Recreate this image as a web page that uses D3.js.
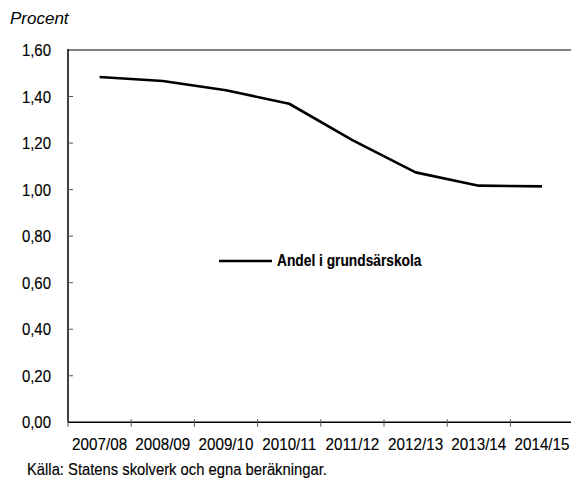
<!DOCTYPE html>
<html>
<head>
<meta charset="utf-8">
<script src="https://cdn.jsdelivr.net/npm/d3@7"></script>
<style>
  html, body { margin: 0; padding: 0; background: #fff; }
  svg { display: block; }
  .lbl { font-family: "Liberation Sans", Arial, sans-serif; font-size: 17px; fill: #000; stroke: #000; stroke-width: 0.15px; }
  .bold { stroke-width: 0.15px; font-weight: bold; }
</style>
</head>
<body>
<svg id="chart" width="571" height="481"></svg>
<script>
const categories = ["2007/08","2008/09","2009/10","2010/11","2011/12","2012/13","2013/14","2014/15"];
const andelValues = [1.484, 1.467, 1.427, 1.369, 1.213, 1.074, 1.017, 1.014];
const yTicks = [0, 0.2, 0.4, 0.6, 0.8, 1.0, 1.2, 1.4, 1.6];
const seriesName = "Andel i grundsärskola";
const yTitle = "Procent";
const sourceText = "Källa: Statens skolverk och egna beräkningar.";

const svg = d3.select("#chart");
const mLeft = 68, mRight = 573.6, mTop = 50, mBottom = 422.3;
const narrow = 0.88, narrowBold = 0.81;

const x = d3.scaleBand().domain(categories).range([mLeft, mRight]).paddingInner(0).paddingOuter(0);
const y = d3.scaleLinear().domain([0, 1.6]).range([mBottom, mTop]);
const fmt = v => d3.format(".2f")(v).replace(".", ",");

// condensed text helper: places text at (px,py) compressed horizontally
function condensed(sel, px, py, sx) {
  return sel.attr("x", 0).attr("y", 0)
    .attr("transform", (d, i) => `translate(${typeof px === "function" ? px(d, i) : px},${typeof py === "function" ? py(d, i) : py}) scale(${sx},1)`);
}

// top gray border
svg.append("line").attr("x1", mLeft).attr("x2", 571).attr("y1", y(1.6)).attr("y2", y(1.6))
  .attr("stroke", "#808080").attr("stroke-width", 2);

// y axis
const yAxis = svg.append("g");
yAxis.append("line").attr("x1", mLeft).attr("x2", mLeft).attr("y1", y(1.6) - 1).attr("y2", mBottom)
  .attr("stroke", "#000").attr("stroke-width", 1.5);
yAxis.selectAll("line.tick").data(yTicks.filter(t => t > 0 && t < 1.6)).enter().append("line")
  .attr("class", "tick").attr("x1", mLeft).attr("x2", mLeft + 5)
  .attr("y1", d => y(d)).attr("y2", d => y(d)).attr("stroke", "#555").attr("stroke-width", 1);
condensed(yAxis.selectAll("text").data(yTicks).enter().append("text")
  .attr("class", "lbl").attr("text-anchor", "end").text(fmt), 51, d => y(d) + 6, narrow);

// x axis
const xAxis = svg.append("g");
xAxis.append("line").attr("x1", mLeft).attr("x2", 571).attr("y1", mBottom).attr("y2", mBottom)
  .attr("stroke", "#000").attr("stroke-width", 1.5);
const tickPos = categories.map(c => x(c));
xAxis.selectAll("line.tick").data(tickPos).enter().append("line")
  .attr("class", "tick").attr("x1", d => d).attr("x2", d => d)
  .attr("y1", mBottom - 3).attr("y2", mBottom + 4.5).attr("stroke", "#555").attr("stroke-width", 1);
condensed(xAxis.selectAll("text").data(categories).enter().append("text")
  .attr("class", "lbl").attr("text-anchor", "middle").text(d => d),
  d => x(d) + x.bandwidth() / 2, 450, 0.895);

// line
const line = d3.line().x((d, i) => x(categories[i]) + x.bandwidth() / 2).y(d => y(d));
svg.append("path").datum(andelValues).attr("d", line)
  .attr("fill", "none").attr("stroke", "#000").attr("stroke-width", 2.6).attr("stroke-linejoin", "round");

// legend
svg.append("line").attr("x1", 219).attr("x2", 272).attr("y1", 261).attr("y2", 261)
  .attr("stroke", "#000").attr("stroke-width", 2.6);
condensed(svg.append("text").attr("class", "lbl bold").text(seriesName),
  277, 265.5, narrowBold);

// titles
svg.append("text").attr("x", 10).attr("y", 24)
  .attr("font-family", "Liberation Sans, Arial, sans-serif").attr("font-style", "italic")
  .attr("font-size", 17).text(yTitle);
condensed(svg.append("text").attr("class", "lbl").text(sourceText), 27, 475, 0.87);
</script>
</body>
</html>
